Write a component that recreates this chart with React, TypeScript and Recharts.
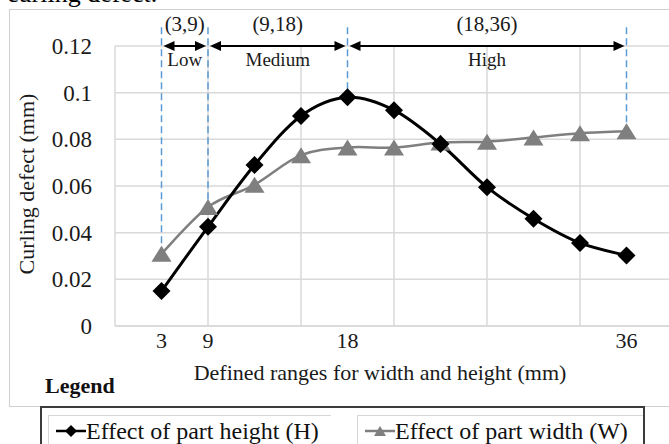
import React from 'react'
import { CartesianGrid, Label, Legend, Line, LineChart, ReferenceLine, XAxis, YAxis } from 'recharts'

const SERIF = '"Liberation Serif", "Times New Roman", serif'

// evenly spaced sample positions along the x axis
const sizeIndex = [1, 2, 3, 4, 5, 6, 7, 8, 9, 10, 11]
const heightEffect = [0.015, 0.0425, 0.069, 0.09, 0.098, 0.0925, 0.078, 0.0595, 0.046, 0.0356, 0.0302]
const widthEffect = [0.031, 0.051, 0.0605, 0.0732, 0.0765, 0.0765, 0.0786, 0.079, 0.0808, 0.0826, 0.0835]

const tickPositions = [1, 2, 5, 11]
const tickLabels = ['3', '9', '18', '36']
const yTicks = [0, 0.02, 0.04, 0.06, 0.08, 0.1, 0.12]
const gridX = [0, 2, 4, 6, 8, 10, 12]

const rangeFrom = [1, 2, 5]
const rangeTo = [2, 5, 11]
const rangeBounds = ['(3,9)', '(9,18)', '(18,36)']
const rangeNames = ['Low', 'Medium', 'High']
const markerTop = 0.128

const data = sizeIndex.map((x, i) => ({ x, height: heightEffect[i], width: widthEffect[i] }))

// Catmull-Rom style smoothing, close to the spreadsheet's "smoothed line"
function smoothCurve(context: any) {
  let pts: number[][] = []
  return {
    areaStart() {},
    areaEnd() {},
    lineStart() {
      pts = []
    },
    lineEnd() {
      const n = pts.length
      if (!n) return
      context.moveTo(pts[0][0], pts[0][1])
      for (let i = 0; i < n - 1; i++) {
        const p0 = pts[Math.max(i - 1, 0)]
        const p1 = pts[i]
        const p2 = pts[i + 1]
        const p3 = pts[Math.min(i + 2, n - 1)]
        context.bezierCurveTo(
          p1[0] + (p2[0] - p0[0]) / 6,
          p1[1] + (p2[1] - p0[1]) / 6,
          p2[0] - (p3[0] - p1[0]) / 6,
          p2[1] - (p3[1] - p1[1]) / 6,
          p2[0],
          p2[1],
        )
      }
    },
    point(x: number, y: number) {
      pts.push([+x, +y])
    },
  }
}

const Diamond = ({ cx, cy, r = 9, fill = '#000' }: any) => (
  <polygon points={`${cx},${cy - r} ${cx + r},${cy} ${cx},${cy + r} ${cx - r},${cy}`} fill={fill} />
)

const Triangle = ({ cx, cy, w = 10, h = 8, fill = '#7f7f7f' }: any) => (
  <polygon points={`${cx - w},${cy + h} ${cx + w},${cy + h} ${cx},${cy - h}`} fill={fill} />
)

const RangeArrow = ({ x1, y1, x2, bounds, name }: any) => {
  const a = x1 + 2
  const b = x2 - 2
  const mid = (x1 + x2) / 2
  return (
    <g>
      <line x1={a + 8} y1={y1} x2={b - 8} y2={y1} stroke="#000" strokeWidth={2} />
      <polygon points={`${a},${y1} ${a + 11},${y1 - 5} ${a + 11},${y1 + 5}`} fill="#000" />
      <polygon points={`${b},${y1} ${b - 11},${y1 - 5} ${b - 11},${y1 + 5}`} fill="#000" />
      <text x={mid} y={y1 - 15} textAnchor="middle" fontFamily={SERIF} fontSize={21} fill="#1a1a1a">
        {bounds}
      </text>
      <text x={mid} y={y1 + 20} textAnchor="middle" fontFamily={SERIF} fontSize={19} fill="#1a1a1a">
        {name}
      </text>
    </g>
  )
}

const LegendMarker = ({ kind }: { kind: string }) => (
  <svg width={30} height={16} style={{ position: 'absolute', left: 0, top: 7 }}>
    <line x1={0} y1={8} x2={30} y2={8} stroke={kind === 'height' ? '#000' : '#7f7f7f'} strokeWidth={2.5} />
    {kind === 'height' ? <Diamond cx={15} cy={8} r={6} /> : <Triangle cx={15} cy={8} w={6} h={5} />}
  </svg>
)

const renderLegend = ({ payload }: any) => {
  const items = payload || []
  const cellLeft = [6, 315]
  const cellWidth = [282, 285]
  return (
    <div style={{ position: 'relative', width: 669, height: 444, fontFamily: SERIF }}>
      <div style={{ position: 'absolute', left: 45, top: 375, fontSize: 22, lineHeight: '22px', fontWeight: 700, color: '#111' }}>
        Legend
      </div>
      <div
        style={{
          position: 'absolute',
          left: 40,
          top: 406,
          width: 605,
          height: 60,
          border: '2px solid #3b3b3b',
          boxSizing: 'border-box',
          background: '#fff',
        }}
      >
        {items.map((entry: any, i: number) => (
          <div
            key={entry.dataKey}
            style={{
              position: 'absolute',
              left: cellLeft[i],
              top: 7,
              width: cellWidth[i],
              height: 50,
              borderTop: '1px solid #d6d6d6',
              borderLeft: '1px solid #d6d6d6',
            }}
          >
            <div style={{ position: 'absolute', left: 7, top: 0, width: 30, height: 30 }}>
              <LegendMarker kind={entry.dataKey} />
            </div>
            <div style={{ position: 'absolute', left: 37, top: 3, fontSize: 24, lineHeight: '24px', whiteSpace: 'nowrap', color: '#111' }}>
              {entry.value}
            </div>
          </div>
        ))}
      </div>
    </div>
  )
}

export default function App() {
  return (
    <div style={{ position: 'absolute', left: 0, top: 0, width: 669, height: 444, overflow: 'hidden', background: '#fff' }}>
      <div style={{ position: 'absolute', left: 7, top: -19, fontFamily: SERIF, fontSize: 26, lineHeight: '26px', whiteSpace: 'nowrap' }}>
        curling defect.
      </div>
      <div
        style={{
          position: 'absolute',
          left: 9,
          top: 9,
          width: 720,
          height: 398,
          border: '1px solid #d0d0d0',
          boxSizing: 'border-box',
        }}
      />
      <div style={{ position: 'absolute', left: 0, top: 0 }}>
        <LineChart width={700} height={444} data={data} margin={{ top: 46, right: 27, bottom: 88, left: 0 }}>
          <CartesianGrid stroke="#d9d9d9" strokeWidth={1.5} verticalValues={gridX} />
          <XAxis
            dataKey="x"
            type="number"
            domain={[0, 12]}
            ticks={tickPositions}
            interval={0}
            height={30}
            tickFormatter={(v: number) => tickLabels[tickPositions.indexOf(v)] ?? ''}
            tickLine={false}
            tickSize={0}
            tickMargin={6}
            axisLine={{ stroke: '#d9d9d9', strokeWidth: 1.5 }}
            tick={{ fill: '#1a1a1a', fontSize: 22, fontFamily: SERIF }}
          >
            <Label
              content={({ viewBox }: any) => (
                <text
                  x={viewBox.x + viewBox.width / 2 - 14}
                  y={viewBox.y + 54}
                  textAnchor="middle"
                  fontFamily={SERIF}
                  fontSize={22}
                  fill="#1a1a1a"
                >
                  Defined ranges for width and height (mm)
                </text>
              )}
            />
          </XAxis>
          <YAxis
            type="number"
            domain={[0, 0.12]}
            ticks={yTicks}
            width={115}
            axisLine={false}
            tickLine={false}
            tickSize={0}
            tickMargin={23}
            tick={{ fill: '#1a1a1a', fontSize: 23, fontFamily: SERIF }}
          >
            <Label
              content={({ viewBox }: any) => {
                const cx = viewBox.x + 26
                const cy = viewBox.y + viewBox.height / 2 - 2
                return (
                  <text
                    x={cx}
                    y={cy}
                    transform={`rotate(-90 ${cx} ${cy})`}
                    textAnchor="middle"
                    dominantBaseline="central"
                    fontFamily={SERIF}
                    fontSize={22}
                    fill="#1a1a1a"
                  >
                    Curling defect (mm)
                  </text>
                )
              }}
            />
          </YAxis>
          {tickPositions.map((x) => {
            const i = sizeIndex.indexOf(x)
            const peak = Math.max(heightEffect[i], widthEffect[i])
            return (
              <ReferenceLine
                key={`guide-${x}`}
                segment={[
                  { x, y: markerTop },
                  { x, y: peak },
                ]}
                stroke="#5b9bd5"
                strokeWidth={1.5}
                strokeDasharray="7 4"
                ifOverflow="visible"
              />
            )
          })}
          {rangeFrom.map((from, i) => (
            <ReferenceLine
              key={`range-${from}`}
              segment={[
                { x: from, y: 0.12 },
                { x: rangeTo[i], y: 0.12 },
              ]}
              ifOverflow="visible"
              shape={(p: any) => <RangeArrow {...p} bounds={rangeBounds[i]} name={rangeNames[i]} />}
            />
          ))}
          <Line
            type={smoothCurve as any}
            dataKey="width"
            name="Effect of part width (W)"
            stroke="#7f7f7f"
            strokeWidth={2.5}
            dot={(p: any) => <Triangle key={`w-${p.index}`} cx={p.cx} cy={p.cy} />}
            isAnimationActive={false}
          />
          <Line
            type={smoothCurve as any}
            dataKey="height"
            name="Effect of part height (H)"
            stroke="#000"
            strokeWidth={3}
            dot={(p: any) => <Diamond key={`h-${p.index}`} cx={p.cx} cy={p.cy} />}
            isAnimationActive={false}
          />
          <Legend
            layout="horizontal"
            verticalAlign="middle"
            align="center"
            wrapperStyle={{ left: 0, top: 0, width: 669, height: 444, pointerEvents: 'none' }}
            content={renderLegend}
          />
        </LineChart>
      </div>
    </div>
  )
}
